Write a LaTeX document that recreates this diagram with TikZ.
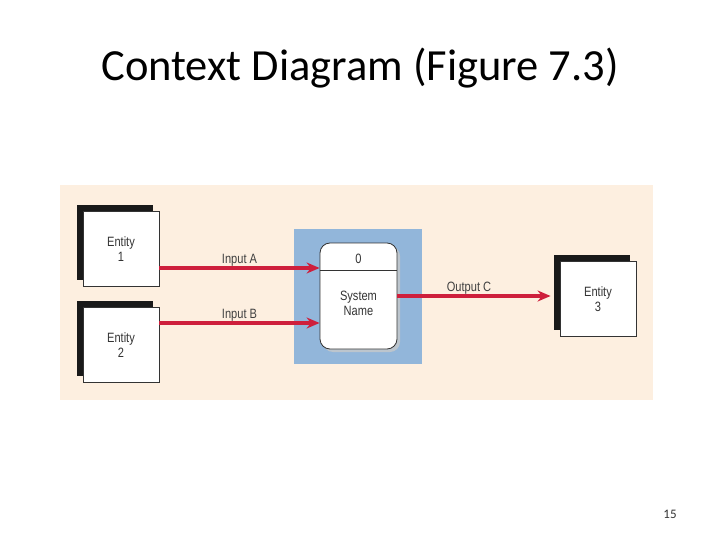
\documentclass[tikz,border=0pt]{standalone}
\usepackage{fontspec}
\setmainfont{Carlito}
\newfontfamily\condfont[FakeStretch=0.82]{Liberation Sans}
\usetikzlibrary{positioning,arrows.meta,shadows}
\definecolor{panelbg}{HTML}{FDEFE0}
\definecolor{procbg}{HTML}{92B6DA}
\definecolor{flowred}{HTML}{CE1F3C}
\tikzset{
  entitybox/.style={draw=black!80, fill=white, line width=0.8pt, minimum width=76pt, minimum height=75pt,
    align=center, font=\condfont\fontsize{13.5}{15}\selectfont, text=black!80,
    general shadow={shadow xshift=-6pt, shadow yshift=6.5pt, fill=black!90}},
  procbox/.style={draw=black!80, fill=white, line width=0.8pt, rounded corners=10pt,
    minimum width=77pt, minimum height=106pt,
    general shadow={shadow xshift=3pt, shadow yshift=-3pt, fill=procbg!60!black!40, rounded corners=10pt}},
  flow/.style={draw=flowred, line width=3.4pt, -{Stealth[length=13pt,width=11pt]}},
  flowlabel/.style={font=\condfont\fontsize{13.5}{15}\selectfont, text=black!75, above=-3pt}
}
\begin{document}
\begin{tikzpicture}[x=1pt, y=-1pt]
% Page
\fill[white] (0,0) rectangle (720,540);
\useasboundingbox (0,0) rectangle (720,540);
\node[font=\fontsize{44.5}{48}\selectfont] (title) at (360,68) {Context Diagram (Figure 7.3)};
\node[font=\fontsize{13}{14}\selectfont, text=black!80] (pagenum) at (670,514) {15};
% Panel and process area
\fill[panelbg] (60,185) rectangle (653,400);
\fill[procbg] (294,229) rectangle (422,364);
% Entities
\node[entitybox] (e1) at (121,249) {Entity\\1};
\node[entitybox] (e2) at (121,345) {Entity\\2};
\node[entitybox] (e3) at (598,299) {Entity\\3};
% Process
\node[procbox] (p) at (358.5,296) {};
\draw[black!80, line width=0.8pt] (p.west |- 0,270) -- (p.east |- 0,270);
\node[font=\condfont\fontsize{13.5}{15}\selectfont, text=black!80] (pid) at (358.5,259) {0};
\node[font=\condfont\fontsize{13.5}{15}\selectfont, text=black!80, align=center] (pname) at (358.5,303) {System\\Name};
% Data flows
\coordinate (c3) at ([xshift=-9pt]e3.west |- 0,296);
\draw[flow] (e1.east |- 0,268) -- (p.west |- 0,268) node[midway, flowlabel] {Input A};
\draw[flow] (e2.east |- 0,323) -- (p.west |- 0,323) node[midway, flowlabel] {Input B};
\draw[flow] (p.east |- 0,296) -- (c3) node[midway, flowlabel, xshift=-5pt] {Output C};
\end{tikzpicture}
\end{document}
